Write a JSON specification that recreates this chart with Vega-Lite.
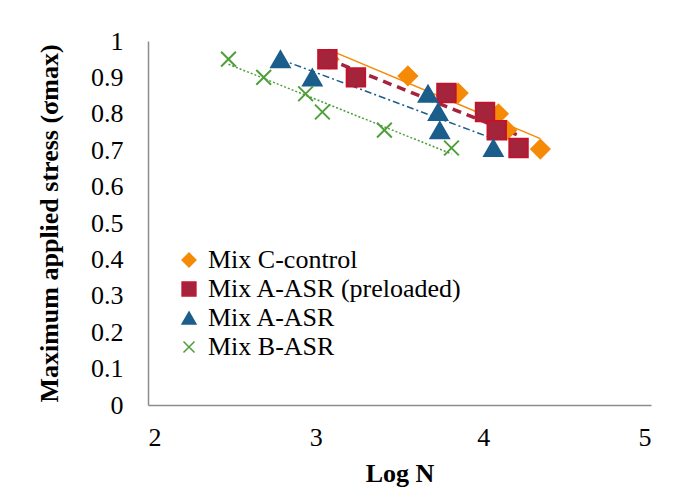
{
  "$schema": "https://vega.github.io/schema/vega-lite/v6.json",
  "autosize": {"type": "none"},
  "width": 503,
  "height": 364,
  "padding": {"left": 148, "top": 41, "right": 29, "bottom": 83},
  "background": "white",
  "config": {
    "view": {"stroke": null},
    "font": "Liberation Serif",
    "axis": {
      "domainColor": "#8c8c8c",
      "domainWidth": 1.5,
      "ticks": false,
      "grid": false,
      "labelFont": "Liberation Serif",
      "labelFontSize": 26,
      "labelColor": "#000000",
      "titleFont": "Liberation Serif",
      "titleFontSize": 26,
      "titleFontWeight": "bold",
      "titleColor": "#000000"
    }
  },
  "data": {
    "values": [
      {"series": "Mix C-control", "logN": 3.08, "stress": 0.95},
      {"series": "Mix C-control", "logN": 3.55, "stress": 0.904},
      {"series": "Mix C-control", "logN": 3.85, "stress": 0.857},
      {"series": "Mix C-control", "logN": 4.09, "stress": 0.80},
      {"series": "Mix C-control", "logN": 4.14, "stress": 0.755},
      {"series": "Mix C-control", "logN": 4.34, "stress": 0.703},
      {"series": "Mix A-ASR (preloaded)", "logN": 3.07, "stress": 0.95},
      {"series": "Mix A-ASR (preloaded)", "logN": 3.24, "stress": 0.90},
      {"series": "Mix A-ASR (preloaded)", "logN": 3.78, "stress": 0.857},
      {"series": "Mix A-ASR (preloaded)", "logN": 4.01, "stress": 0.805},
      {"series": "Mix A-ASR (preloaded)", "logN": 4.08, "stress": 0.755},
      {"series": "Mix A-ASR (preloaded)", "logN": 4.21, "stress": 0.706},
      {"series": "Mix A-ASR", "logN": 2.79, "stress": 0.95},
      {"series": "Mix A-ASR", "logN": 2.98, "stress": 0.90},
      {"series": "Mix A-ASR", "logN": 3.67, "stress": 0.855},
      {"series": "Mix A-ASR", "logN": 3.73, "stress": 0.805},
      {"series": "Mix A-ASR", "logN": 3.74, "stress": 0.755},
      {"series": "Mix A-ASR", "logN": 4.06, "stress": 0.706},
      {"series": "Mix B-ASR", "logN": 2.48, "stress": 0.95},
      {"series": "Mix B-ASR", "logN": 2.69, "stress": 0.90},
      {"series": "Mix B-ASR", "logN": 2.94, "stress": 0.855},
      {"series": "Mix B-ASR", "logN": 3.04, "stress": 0.805},
      {"series": "Mix B-ASR", "logN": 3.41, "stress": 0.755},
      {"series": "Mix B-ASR", "logN": 3.81, "stress": 0.706}
    ]
  },
  "encoding": {
    "x": {
      "field": "logN", "type": "quantitative",
      "scale": {"domain": [2, 5], "nice": false, "zero": false},
      "axis": {"values": [2, 3, 4, 5], "title": "Log N", "labelPadding": 19, "titlePadding": 10}
    },
    "y": {
      "field": "stress", "type": "quantitative",
      "scale": {"domain": [0, 1], "nice": false},
      "axis": {"values": [0, 0.1, 0.2, 0.3, 0.4, 0.5, 0.6, 0.7, 0.8, 0.9, 1], "format": ".1~f", "title": "Maximum  applied stress (σmax)", "labelPadding": 25, "titlePadding": 28}
    }
  },
  "layer": [
    {
      "transform": [
        {"filter": "datum.series === 'Mix C-control'"},
        {"regression": "stress", "on": "logN"}
      ],
      "mark": {"type": "line", "stroke": "#F58A07", "strokeWidth": 1.5},
      "encoding": {}
    },
    {
      "transform": [
        {"filter": "datum.series === 'Mix A-ASR (preloaded)'"},
        {"regression": "stress", "on": "logN"}
      ],
      "mark": {"type": "line", "stroke": "#A3243B", "strokeWidth": 3.5, "strokeDash": [9, 6]},
      "encoding": {}
    },
    {
      "transform": [
        {"filter": "datum.series === 'Mix A-ASR'"},
        {"regression": "stress", "on": "logN"}
      ],
      "mark": {"type": "line", "stroke": "#1B5E8C", "strokeWidth": 1.5, "strokeDash": [7, 3, 2, 3]},
      "encoding": {}
    },
    {
      "transform": [
        {"filter": "datum.series === 'Mix B-ASR'"},
        {"regression": "stress", "on": "logN"}
      ],
      "mark": {"type": "line", "stroke": "#4E9E3A", "strokeWidth": 1.5, "strokeDash": [2, 2]},
      "encoding": {}
    },
    {
      "mark": {"type": "point", "opacity": 1, "strokeWidth": 2, "size": 340},
      "encoding": {
        "shape": {
          "field": "series", "type": "nominal",
          "scale": {
            "domain": ["Mix C-control", "Mix A-ASR (preloaded)", "Mix A-ASR", "Mix B-ASR"],
            "range": ["diamond", "square", "triangle-up", "M-0.8,-0.8L0.8,0.8M0.8,-0.8L-0.8,0.8"]
          },
          "legend": {
            "title": null, "orient": "none", "legendX": 28, "legendY": 206,
            "labelFont": "Liberation Serif", "labelFontSize": 26, "labelColor": "#000000", "labelLimit": 0,
            "symbolSize": 190, "rowPadding": 3, "labelOffset": 6, "symbolStrokeWidth": 1.5
          }
        },
        "fill": {
          "field": "series", "type": "nominal",
          "scale": {
            "domain": ["Mix C-control", "Mix A-ASR (preloaded)", "Mix A-ASR", "Mix B-ASR"],
            "range": ["#F58A07", "#A3243B", "#1B5E8C", "transparent"]
          }
        },
        "stroke": {
          "field": "series", "type": "nominal",
          "scale": {
            "domain": ["Mix C-control", "Mix A-ASR (preloaded)", "Mix A-ASR", "Mix B-ASR"],
            "range": ["#F58A07", "#C0142E", "#1B5E8C", "#4E9E3A"]
          }
        }
      }
    }
  ]
}
